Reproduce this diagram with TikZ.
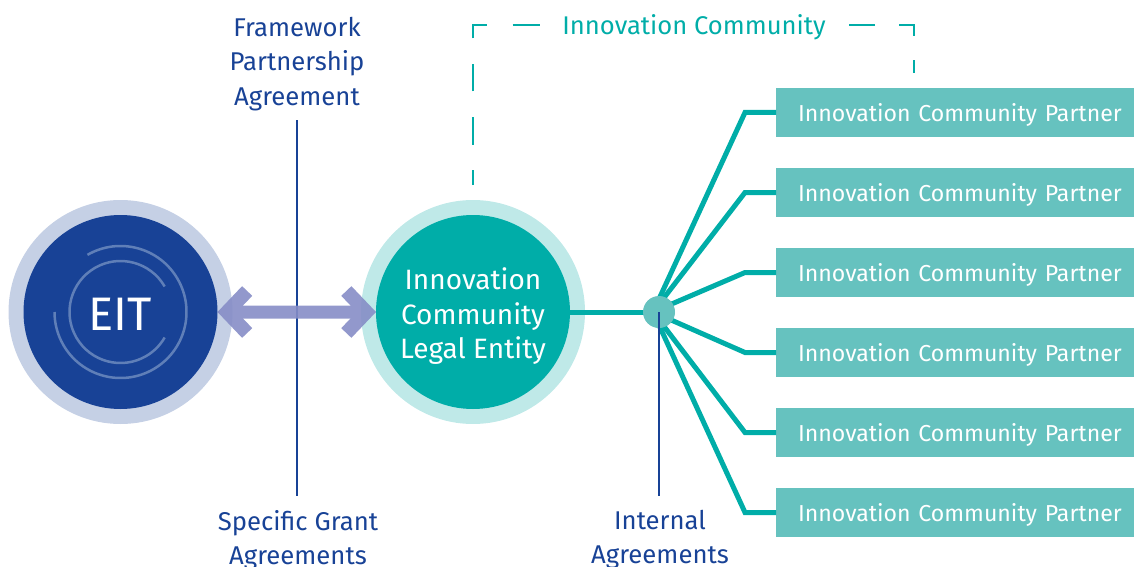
\documentclass[tikz,border=0pt]{standalone}
\usepackage{fontspec}
\setmainfont{Fira Sans}
\usetikzlibrary{arrows.meta,positioning}

\definecolor{eitblue}{HTML}{184296}
\definecolor{eitring}{HTML}{C5D0E5}
\definecolor{eitarc}{HTML}{5F7FB8}
\definecolor{comteal}{HTML}{00ADA8}
\definecolor{comring}{HTML}{BFE9E8}
\definecolor{partnerteal}{HTML}{66C2BF}
\definecolor{grantarrow}{HTML}{868DC6}

\newcommand{\partnerlabel}{\mbox{Innovation Community Partner}}

\tikzset{
  ring/.style={circle,minimum size=224pt,inner sep=0pt,outer sep=0pt},
  disc/.style={circle,minimum size=194pt,inner sep=0pt,outer sep=0pt,text=white,align=center},
  partner/.style={fill=partnerteal,text=white,minimum height=49pt,text height=22pt,text depth=4pt,text width=314pt,inner xsep=22pt,inner ysep=0pt,outer sep=0pt,align=left,font=\fontsize{23.1}{28}\selectfont},
  agreement/.style={text=eitblue,align=center,inner sep=0pt,font=\fontsize{25.7}{34.5}\selectfont},
  teal line/.style={draw=comteal,line width=5pt},
  blue line/.style={draw=eitblue,line width=2.7pt},
  arc line/.style={draw=eitarc,line width=2.5pt},
  dash line/.style={draw=comteal,line width=2.7pt}
}

\begin{document}
\begin{tikzpicture}[x=1pt,y=-1pt]
  \useasboundingbox (0,0) rectangle (1134,567);

  % circles
  \node[ring,fill=eitring] (eit ring) at (120.5,312) {};
  \node[disc,fill=eitblue,font=\fontsize{47}{50}\selectfont] (eit) at (eit ring) {\rule{0pt}{36pt}EIT};
  \node[ring,fill=comring] (legal ring) at (473,312) {};
  \node[disc,fill=comteal,font=\fontsize{28}{34.5}\selectfont] (legal) at (legal ring) {\rule{0pt}{30pt}Innovation\\Community\\Legal Entity};

  \draw[arc line] (eit.center) ++(30:51pt) arc[start angle=30,end angle=330,radius=51pt];
  \draw[arc line] (eit.center) ++(120:66pt) arc[start angle=120,end angle=-180,radius=66pt];

  % partners
  \node[partner,anchor=north west] (box1) at (776,88) {\partnerlabel};
  \node[partner] (box2) [below=31pt of box1] {\partnerlabel};
  \node[partner] (box3) [below=31pt of box2] {\partnerlabel};
  \node[partner] (box4) [below=31pt of box3] {\partnerlabel};
  \node[partner] (box5) [below=31pt of box4] {\partnerlabel};
  \node[partner] (box6) [below=31pt of box5] {\partnerlabel};

  % labels
  \node[agreement,anchor=north] (fpa) at (297,17) {Framework\\Partnership\\Agreement};
  \node[agreement,anchor=north] (sga) at (298,510) {Specific Grant\\Agreements};
  \node[agreement,anchor=north] (ia) at (660,510) {Internal\\Agreements};
  \node[text=comteal,inner sep=0pt,font=\fontsize{25.6}{30}\selectfont] (community) at (694,27.5) {Innovation Community};

  % hub
  \coordinate (hub pos) at (659,312);
  \coordinate (fan pos) at (653,312);
  \draw[teal line] (legal) -- (hub pos);
  \foreach \n in {1,...,6}
    \draw[teal line] (fan pos) -- ([xshift=-31pt]box\n.west) -- (box\n.west);
  \node[circle,fill=partnerteal,minimum size=32pt,inner sep=0pt] (hub) at (hub pos) {};

  % agreements
  \draw[blue line] (fpa.south) ++(0,9) -- ([xshift=-1pt,yshift=14pt]sga.north);
  \draw[blue line] (hub.center) -- ([xshift=-1pt,yshift=14pt]ia.north);

  % grant arrow
  \begin{scope}[transparency group,opacity=.9]
    \draw[draw=grantarrow,line width=13pt,{Straight Barb[length=20pt,width=42pt,line width=14pt]}-{Straight Barb[length=20pt,width=42pt,line width=14pt]}] (eit) -- (legal);
  \end{scope}

  % community frame
  \coordinate (frame left) at (473,185);
  \coordinate (frame right) at (914,73);
  \draw[dash line,dash pattern=on 27.5pt off 25.5pt,dash phase=12.5pt] (frame left) |- ([xshift=-9pt,yshift=2.5pt]community.west);
  \draw[dash line,dash pattern=on 26pt off 24pt,dash phase=13pt] (frame right) |- ([xshift=9pt,yshift=2.5pt]community.east);
\end{tikzpicture}
\end{document}
